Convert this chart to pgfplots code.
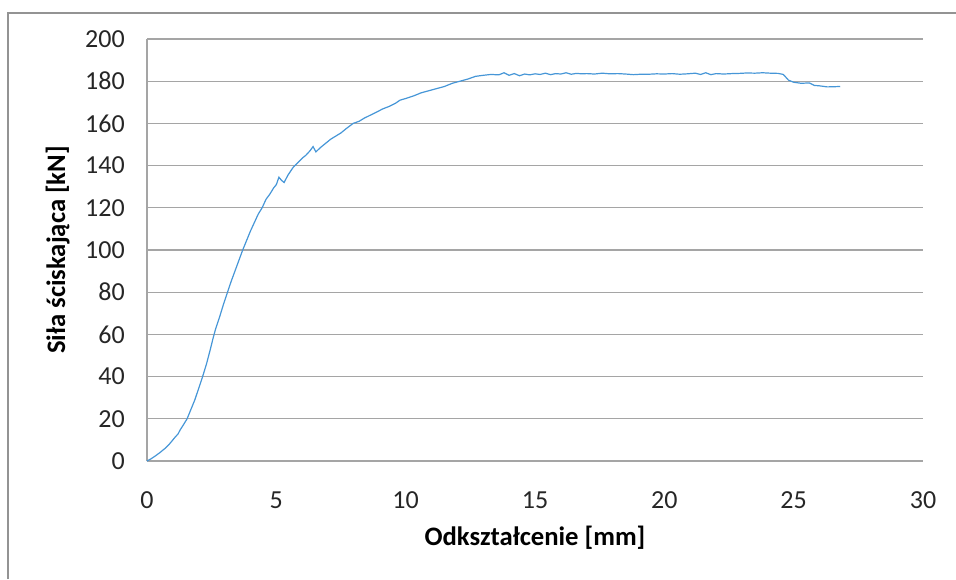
\documentclass[border=0pt]{standalone}
\usepackage{fontspec}
\setmainfont{Carlito}
\usepackage{pgfplots}
\pgfplotsset{compat=1.18}

\definecolor{curve}{RGB}{70,150,215}
\definecolor{gridc}{RGB}{165,165,165}

\begin{document}
\begin{tikzpicture}
% page = 956 x 579 px at 0.75pt per px
\path[use as bounding box] (0,0) rectangle (717pt,434.25pt);
\draw[gray!85, line width=1.1pt] (6pt,0) -- (6pt,424.5pt) -- (717pt,424.5pt);
\begin{axis}[
    at={(110.25pt,88.5pt)}, anchor=south west,
    scale only axis,
    width=582pt, height=316.5pt,
    xmin=0, xmax=30, ymin=0, ymax=200,
    xtick={0,5,...,30},
    ytick={0,20,...,200},
    axis x line*=bottom, axis y line*=left,
    axis line style={draw=gridc, line width=0.8pt, -},
    major tick length=0pt,
    ymajorgrids=true,
    grid style={draw=gridc, line width=0.8pt},
    /pgf/number format/assume math mode=true,
    tick label style={font=\fontsize{19.5}{22}\selectfont, text=black!85},
    xticklabel style={anchor=center, yshift=-29.25pt},
    yticklabel style={anchor=east, inner sep=0pt, xshift=-16.5pt},
    xlabel={\textbf{Odkształcenie [mm]}},
    ylabel={\textbf{Siła ściskająca [kN]}},
    label style={font=\fontsize{20}{22}\selectfont},
    xlabel style={at={(axis description cs:0.5,-0.1825)}, anchor=center},
    ylabel style={at={(axis description cs:-0.115,0.5)}, anchor=center, rotate=0},
    clip=false,
]
\addplot[curve, line width=0.9pt] coordinates {
(0,0) (0.15,1.0) (0.3,2.2) (0.5,4.0) (0.7,6.0) (0.85,7.8) (1.0,10.0)
(1.1,11.5) (1.2,12.8) (1.28,14.7) (1.4,17.0) (1.55,20.0) (1.7,24.5)
(1.85,29.0) (2.0,34.5) (2.15,40.0) (2.3,46.0) (2.45,53.0) (2.55,58.0)
(2.65,62.5) (2.8,68.0) (2.95,74.0) (3.1,79.5) (3.25,85.0) (3.4,90.0)
(3.55,95.0) (3.7,100.0) (3.85,104.5) (4.0,109.0) (4.15,113.0) (4.3,117.0)
(4.45,120.0) (4.6,124.0) (4.75,126.5) (4.9,129.5) (5.0,131.0) (5.1,134.5)
(5.2,133.0) (5.3,132.0) (5.45,135.5) (5.64,139.0) (5.8,141.0) (6.0,143.5)
(6.15,145.0) (6.3,147.0) (6.42,149.0) (6.53,146.5) (6.7,148.5) (6.9,150.5)
(7.1,152.5) (7.3,154.0) (7.5,155.5) (7.7,157.5) (7.97,160.0) (8.2,161.0)
(8.4,162.5) (8.65,164.0) (8.9,165.5) (9.1,166.8) (9.35,168.0) (9.6,169.5)
(9.78,171.0) (10.0,171.8) (10.3,173.0) (10.6,174.5) (10.9,175.5) (11.2,176.5)
(11.5,177.5) (11.8,179.0) (12.1,180.0) (12.4,181.0) (12.7,182.3) (13.0,182.8)
(13.3,183.2) (13.6,183.0) (13.8,184.0) (14.0,182.8) (14.2,183.6) (14.4,182.6)
(14.6,183.4) (14.8,183.0) (15.0,183.5) (15.2,183.2) (15.4,183.8) (15.6,183.1)
(15.8,183.6) (16.0,183.4) (16.2,184.0) (16.4,183.3) (16.6,183.7) (16.8,183.5)
(17.0,183.6) (17.3,183.4) (17.6,183.8) (17.9,183.5) (18.2,183.6) (18.5,183.4)
(18.8,183.1) (19.1,183.3) (19.4,183.3) (19.7,183.5) (20.0,183.4) (20.3,183.6)
(20.6,183.3) (20.9,183.5) (21.2,183.8) (21.4,183.2) (21.6,184.0) (21.8,183.1)
(22.0,183.6) (22.3,183.4) (22.6,183.6) (22.9,183.7) (23.2,183.9) (23.5,183.8)
(23.8,184.0) (24.1,183.8) (24.4,183.7) (24.6,183.2) (24.8,180.5) (25.0,179.5)
(25.3,179.0) (25.6,179.2) (25.8,178.0) (26.0,177.8) (26.3,177.3) (26.6,177.4)
(26.8,177.5)
};
\end{axis}
\end{tikzpicture}
\end{document}
